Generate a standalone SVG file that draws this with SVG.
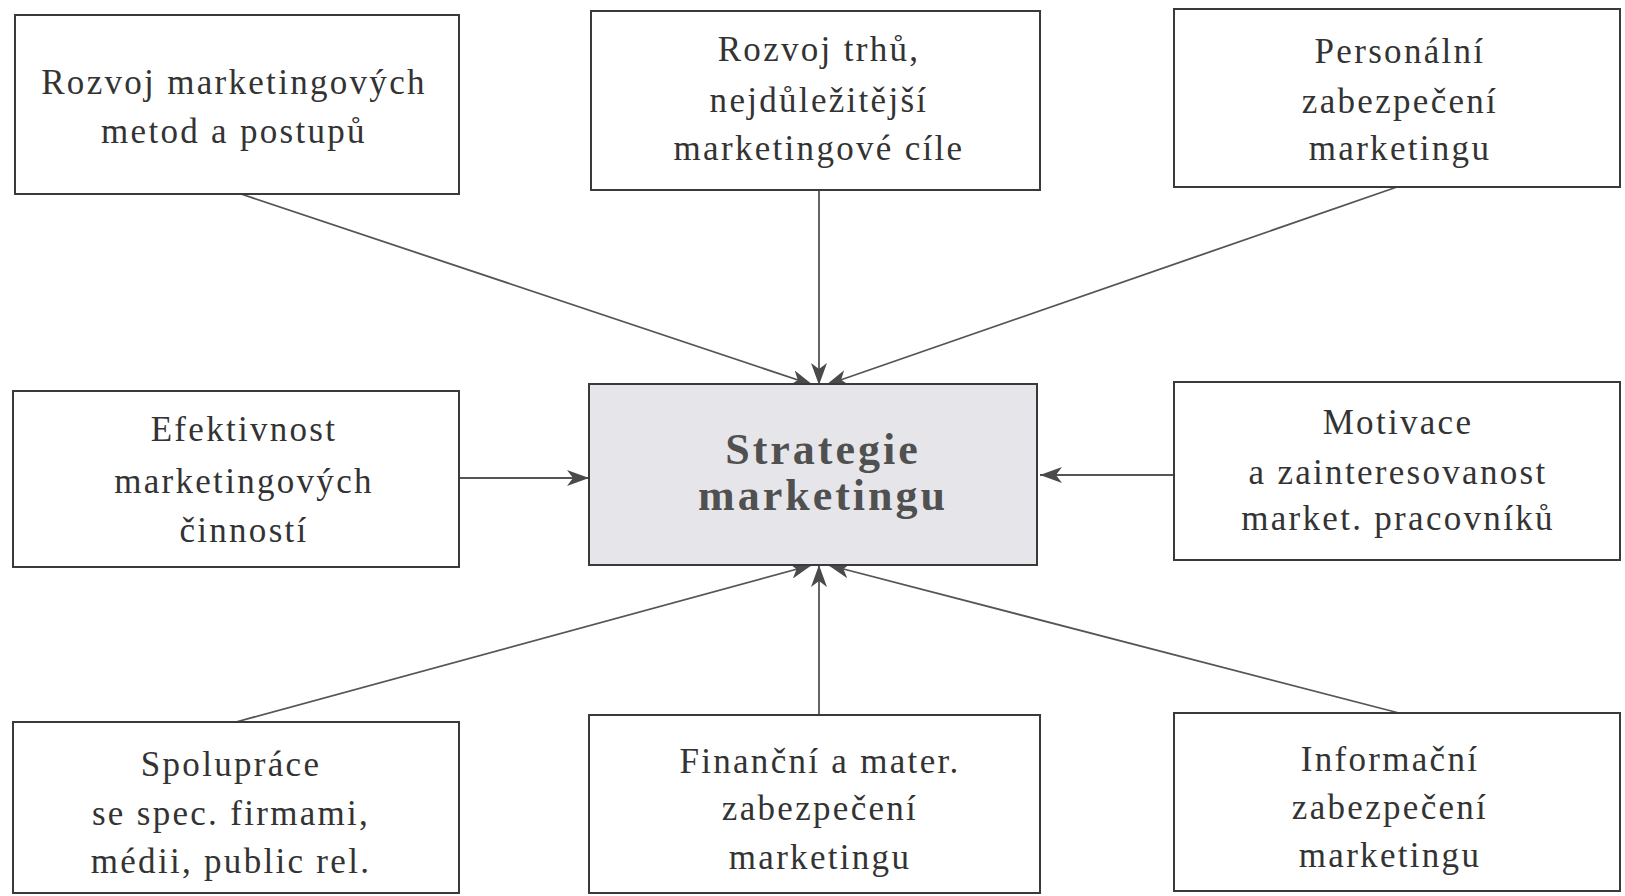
<svg xmlns="http://www.w3.org/2000/svg" width="1625" height="896" viewBox="0 0 1625 896">
<style>
.box{fill:#fff;stroke:#3a3a3a;stroke-width:2}
.core{fill:#e6e6ea;stroke:#3a3a3a;stroke-width:2}
.t{font-family:"Liberation Serif","Times New Roman",serif;font-size:35px;letter-spacing:2.3px;fill:#333;text-anchor:middle}
.b{font-family:"Liberation Serif","Times New Roman",serif;font-size:44px;font-weight:bold;letter-spacing:3px;fill:#505050;text-anchor:middle}
.c{stroke:#555;stroke-width:1.8;fill:none;marker-end:url(#ah)}
</style>
<defs>
<marker id="ah" viewBox="0 0 22 16" refX="22" refY="8" markerWidth="22" markerHeight="16" markerUnits="userSpaceOnUse" orient="auto">
<path d="M0,0 L22,8 L0,16 L6,8 Z" fill="#4a4a4a"/>
</marker>
</defs>
<rect width="1625" height="896" fill="#fff"/>
<g id="connectors">
<line class="c" x1="241" y1="194" x2="813" y2="385"/>
<line class="c" x1="819" y1="190" x2="819" y2="385"/>
<line class="c" x1="1397" y1="187" x2="826" y2="385"/>
<line class="c" x1="459" y1="478" x2="589" y2="478"/>
<line class="c" x1="1174" y1="475" x2="1040" y2="475"/>
<line class="c" x1="236" y1="722" x2="812" y2="565"/>
<line class="c" x1="819" y1="715" x2="819" y2="565"/>
<line class="c" x1="1399" y1="713" x2="828" y2="565"/>
</g>
<g id="n1"><rect class="box" x="15" y="15" width="444" height="179"/>
<text class="t" x="234" y="94">Rozvoj marketingových</text>
<text class="t" x="234" y="143">metod a postupů</text></g>
<g id="n2"><rect class="box" x="591" y="11" width="449" height="179"/>
<text class="t" x="819" y="61">Rozvoj trhů,</text>
<text class="t" x="819" y="112">nejdůležitější</text>
<text class="t" x="819" y="160">marketingové cíle</text></g>
<g id="n3"><rect class="box" x="1174" y="9" width="446" height="178"/>
<text class="t" x="1400" y="63">Personální</text>
<text class="t" x="1400" y="113">zabezpečení</text>
<text class="t" x="1400" y="160">marketingu</text></g>
<g id="n4"><rect class="box" x="13" y="391" width="446" height="176"/>
<text class="t" x="244" y="441">Efektivnost</text>
<text class="t" x="244" y="493">marketingových</text>
<text class="t" x="244" y="542">činností</text></g>
<g id="center"><rect class="core" x="589" y="384" width="448" height="181"/>
<text class="b" x="823" y="464">Strategie</text>
<text class="b" x="823" y="510">marketingu</text></g>
<g id="n6"><rect class="box" x="1174" y="382" width="446" height="178"/>
<text class="t" x="1398" y="434">Motivace</text>
<text class="t" x="1398" y="484">a zainteresovanost</text>
<text class="t" x="1398" y="530">market. pracovníků</text></g>
<g id="n7"><rect class="box" x="13" y="722" width="446" height="171"/>
<text class="t" x="231" y="776">Spolupráce</text>
<text class="t" x="231" y="825">se spec. firmami,</text>
<text class="t" x="231" y="873">médii, public rel.</text></g>
<g id="n8"><rect class="box" x="589" y="715" width="451" height="178"/>
<text class="t" x="820" y="773">Finanční a mater.</text>
<text class="t" x="820" y="820">zabezpečení</text>
<text class="t" x="820" y="869">marketingu</text></g>
<g id="n9"><rect class="box" x="1174" y="713" width="446" height="178"/>
<text class="t" x="1390" y="771">Informační</text>
<text class="t" x="1390" y="819">zabezpečení</text>
<text class="t" x="1390" y="867">marketingu</text></g>
</svg>
